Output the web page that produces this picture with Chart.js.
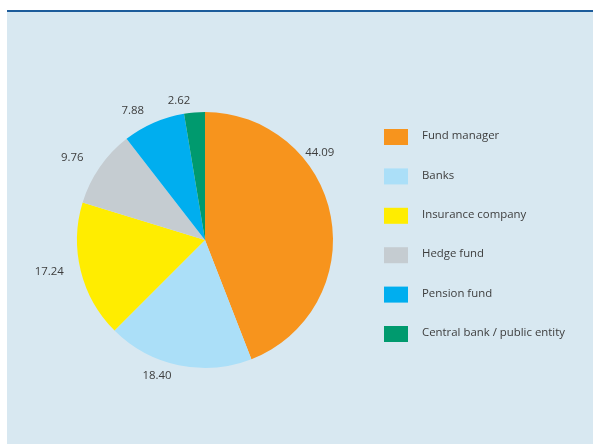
<!DOCTYPE html>
<html>
<head>
<meta charset="utf-8">
<script src="https://cdn.jsdelivr.net/npm/chart.js@4/dist/chart.umd.min.js"></script>
<style>
  html, body { margin: 0; padding: 0; background: #ffffff; }
  body { width: 593px; height: 444px; position: relative; overflow: hidden; }
  #panel {
    position: absolute; left: 7px; top: 10px; width: 586px; height: 432px;
    border-top: 2px solid #1d5c9b; background: #d8e8f1;
  }
  #chart { display: block; }
</style>
</head>
<body>
<div id="panel"><canvas id="chart" width="586" height="432"></canvas></div>
<script>
// Investor types and their shares (%)
const categories = ["Fund manager", "Banks", "Insurance company", "Hedge fund", "Pension fund", "Central bank / public entity"];
const shares = [44.09, 18.40, 17.24, 9.76, 7.88, 2.62];
const valueLabels = ["44.09", "18.40", "17.24", "9.76", "7.88", "2.62"];
const colors = ["#f7941d", "#abdff8", "#ffed00", "#c5ccd1", "#00aeef", "#009a6e"];

const FONT = "11.4px 'Open Sans', 'Noto Sans', sans-serif";
const TEXT = "#3d3d3d";

// Value labels placed just outside each slice
const sliceLabels = {
  id: "sliceLabels",
  afterDatasetsDraw(chart, args, opts) {
    const ctx = chart.ctx;
    const arcs = chart.getDatasetMeta(0).data;
    ctx.save();
    ctx.font = FONT;
    ctx.fillStyle = TEXT;
    ctx.textAlign = "center";
    ctx.textBaseline = "middle";
    arcs.forEach((arc, i) => {
      const a = arc.startAngle + opts.at[i] * (arc.endAngle - arc.startAngle);
      const r = arc.outerRadius + opts.gap[i];
      ctx.fillText(valueLabels[i], arc.x + Math.cos(a) * r, arc.y + Math.sin(a) * r);
    });
    ctx.restore();
  }
};

// Legend column on the right
const sideLegend = {
  id: "sideLegend",
  afterDraw(chart, args, opts) {
    const ctx = chart.ctx;
    ctx.save();
    ctx.font = FONT;
    ctx.textBaseline = "middle";
    ctx.textAlign = "left";
    categories.forEach((name, i) => {
      const y = opts.top + i * opts.step;
      ctx.fillStyle = colors[i];
      ctx.fillRect(opts.left, y, opts.boxW, opts.boxH);
      ctx.fillStyle = TEXT;
      ctx.fillText(name, opts.left + opts.boxW + opts.textGap, y + opts.boxH / 2 - 1);
    });
    ctx.restore();
  }
};

new Chart(document.getElementById("chart"), {
  type: "pie",
  data: {
    labels: categories,
    datasets: [{ data: shares, backgroundColor: colors, borderWidth: 0 }]
  },
  options: {
    responsive: false,
    animation: false,
    layout: { padding: { left: 70, top: 100, right: 260, bottom: 76 } },
    plugins: {
      legend: { display: false },
      tooltip: { enabled: false },
      sliceLabels: {
        at: [0.333, 0.615, 0.54, 0.416, 0.303, -0.117],
        gap: [16, 16, 31, 28, 20, 14]
      },
      sideLegend: { left: 377, top: 117, step: 39.4, boxW: 24, boxH: 16, textGap: 14 }
    }
  },
  plugins: [sliceLabels, sideLegend]
});
</script>
</body>
</html>
